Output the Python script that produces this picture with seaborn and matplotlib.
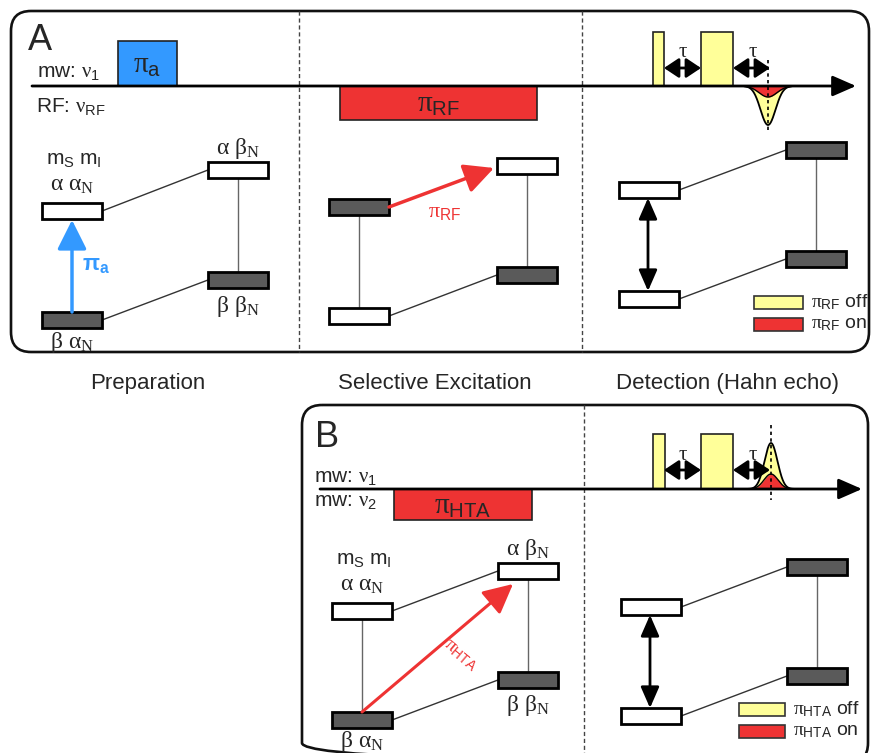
import numpy as np
import matplotlib
matplotlib.use("Agg")
import matplotlib.pyplot as plt
from matplotlib.patches import FancyBboxPatch, Rectangle
import seaborn as sns

sns.set_theme(style="white")
plt.rcParams["font.family"] = ["Liberation Sans", "DejaVu Sans"]
plt.rcParams["mathtext.fontset"] = "custom"
plt.rcParams["mathtext.rm"] = "Liberation Sans"
plt.rcParams["mathtext.it"] = "Liberation Serif"
plt.rcParams["mathtext.bf"] = "Liberation Sans:bold"
plt.rcParams["mathtext.sf"] = "Liberation Sans"

# ---- pulse sequences (x0, x1, y_top, y_bottom) ----
pulse_names = ["pi_a", "pi_RF", "A_det90", "A_det180", "pi_HTA", "B_det90", "B_det180"]
pulse_x0 = [118, 340, 653, 701, 394, 653, 701]
pulse_x1 = [177, 537, 664, 733, 532, 665, 733]
pulse_top = [41, 86, 32, 32, 489, 434, 434]
pulse_bot = [86, 120, 86, 86, 520, 489, 489]
pulse_kind = ["blue", "red", "yellow", "yellow", "red", "yellow", "yellow"]
pulse_text = [r"$\pi_{\mathrm{a}}$", r"$\pi_{\mathrm{RF}}$", "", "", r"$\pi_{\mathrm{HTA}}$", "", ""]

# ---- echo amplitudes (off / on) and centres ----
echo_centre = [768, 771]
echo_axis = [86, 489]
echo_sign = [1, -1]          # A inverted, B upright
echo_off_amp = [39, 46]
echo_on_amp = [11, 15]
echo_off_sigma = [7.5, 6.5]
echo_on_sigma = [9.0, 7.0]

# ---- energy levels: order TL, BL, TR, BR ----
sections = ["A_prep", "A_sel", "A_det", "B_prep", "B_det"]
left_x = [42, 329, 619, 332, 621]
right_x = [208, 497, 786, 498, 787]
level_y = [
    [203, 312, 162, 272],
    [199, 308, 158, 267],
    [182, 291, 142, 251],
    [603, 712, 563, 672],
    [599, 708, 559, 668],
]
level_dark = [
    [False, True, False, True],
    [True, False, False, True],
    [False, False, True, True],
    [False, True, False, True],
    [False, False, True, True],
]
connectors = [
    ["TL-TR", "BL-BR", "TR|BR"],
    ["BL-BR", "TL|BL", "TR|BR"],
    ["TL-TR", "BL-BR", "TR|BR"],
    ["TL-TR", "BL-BR", "TL|BL", "TR|BR"],
    ["TL-TR", "BL-BR", "TR|BR"],
]
LW, LH = 60, 16

BLUE = "#3399FF"
RED = "#EE3333"
YELLOW = "#FFFF99"
DARK = "#5A5A5A"
fills = {"blue": BLUE, "red": RED, "yellow": YELLOW}

fig = plt.figure(figsize=(8.75, 7.53), dpi=100)
fig.patch.set_facecolor("white")
ax = fig.add_axes([0, 0, 1, 1])
ax.set_xlim(0, 875)
ax.set_ylim(753, 0)
ax.axis("off")

# ---- frames ----
ax.add_patch(FancyBboxPatch((11, 11), 858, 341, boxstyle="round,pad=0,rounding_size=20",
                            fc="none", ec="#111111", lw=1.9, zorder=1))
ax.add_patch(FancyBboxPatch((302, 405), 566, 358, boxstyle="round,pad=0,rounding_size=20",
                            fc="none", ec="#111111", lw=1.9, zorder=1))
for x, y0, y1 in [(299, 11, 352), (582, 11, 352), (584, 405, 753)]:
    ax.plot([x, x], [y0, y1], color="#444444", lw=1.0, ls=(0, (3, 2)), zorder=1)

ax.text(28, 50, "A", fontsize=26, va="baseline", ha="left")
ax.text(315, 447, "B", fontsize=26, va="baseline", ha="left")

# ---- time axes ----
for x0, x1, y in [(32, 856, 86), (320, 862, 489)]:
    ax.annotate("", xy=(x1, y), xytext=(x0, y),
                arrowprops=dict(arrowstyle="-|>,head_length=0.8,head_width=0.35",
                                mutation_scale=18, lw=2, color="black",
                                shrinkA=0, shrinkB=0), zorder=4)

ax.text(37, 77, r"mw: $\nu_1$", fontsize=15, va="baseline")
ax.text(36, 112, r"RF: $\nu_{\mathrm{RF}}$", fontsize=15, va="baseline")
ax.text(314, 482, r"mw: $\nu_1$", fontsize=15, va="baseline")
ax.text(314, 506, r"mw: $\nu_2$", fontsize=15, va="baseline")

# ---- pulses ----
for x0, x1, yt, yb, k, t in zip(pulse_x0, pulse_x1, pulse_top, pulse_bot, pulse_kind, pulse_text):
    ax.add_patch(Rectangle((x0, yt), x1 - x0, yb - yt, fc=fills[k], ec="#222222", lw=1.2, zorder=3))
    if t:
        ax.text((x0 + x1) / 2, (yt + yb) / 2 + 1, t, fontsize=21, ha="center", va="center", zorder=5)

# ---- tau arrows ----
for y, lbl_y in [(68, 51), (470, 454)]:
    for x0, x1 in [(664, 701), (733, 770)]:
        ax.annotate("", xy=(x1, y), xytext=(x0, y),
                    arrowprops=dict(arrowstyle="<|-|>,head_length=0.6,head_width=0.4",
                                    mutation_scale=15, lw=2, color="black",
                                    shrinkA=0, shrinkB=0), zorder=4)
        ax.text((x0 + x1) / 2 + 1, lbl_y, r"$\tau$", fontsize=15, ha="center", va="center")

# ---- echoes ----
for c, ya, s, a_off, a_on, s_off, s_on in zip(echo_centre, echo_axis, echo_sign, echo_off_amp,
                                               echo_on_amp, echo_off_sigma, echo_on_sigma):
    xs = np.linspace(c - 24, c + 24, 200)
    off = ya + s * a_off * np.exp(-(xs - c) ** 2 / (2 * s_off ** 2))
    on = ya + s * a_on * np.exp(-(xs - c) ** 2 / (2 * s_on ** 2))
    ax.fill_between(xs, ya, off, color=YELLOW, zorder=3, lw=0)
    ax.fill_between(xs, ya, on, color=RED, zorder=3, lw=0)
    sns.lineplot(x=xs, y=off, ax=ax, color="black", lw=1.3, zorder=3, sort=False)
    sns.lineplot(x=xs, y=on, ax=ax, color="black", lw=1.0, zorder=3, sort=False)
    if s > 0:
        ax.plot([c, c], [60, 132], color="black", lw=1.2, ls=(0, (2, 2)), zorder=5)
    else:
        ax.plot([c, c], [425, 500], color="black", lw=1.2, ls=(0, (2, 2)), zorder=5)

# ---- energy level diagrams ----
def anchors(i):
    lx, rx = left_x[i], right_x[i]
    ys = level_y[i]
    return {
        "TL": (lx, ys[0]), "BL": (lx, ys[1]),
        "TR": (rx, ys[2]), "BR": (rx, ys[3]),
    }

for i, sec in enumerate(sections):
    an = anchors(i)
    for key, dark in zip(["TL", "BL", "TR", "BR"], level_dark[i]):
        x, y = an[key]
        ax.add_patch(Rectangle((x, y), LW, LH, fc=DARK if dark else "white",
                               ec="black", lw=2, zorder=3))
    for con in connectors[i]:
        if "-" in con:
            a, b = con.split("-")
            (xa, ya_), (xb, yb) = an[a], an[b]
            ax.plot([xa + LW, xb], [ya_ + LH / 2, yb + LH / 2], color="#333333", lw=1.0, zorder=2)
        else:
            a, b = con.split("|")
            (xa, ya_), (xb, yb) = an[a], an[b]
            ax.plot([xa + LW / 2, xb + LW / 2], [ya_ + LH, yb], color="#666666", lw=1.0, zorder=2)

greek_lbl = dict(fontsize=17, ha="center", va="center")
for i in (0, 3):
    an = anchors(i)
    cxl = an["TL"][0] + LW / 2
    cxr = an["TR"][0] + LW / 2
    ax.text(cxl + 2, an["TL"][1] - 43, r"$\mathrm{m_S\ m_I}$", fontsize=15, ha="center", va="center")
    ax.text(cxl, an["TL"][1] - 18, r"$\alpha\ \alpha_N$", **greek_lbl)
    ax.text(cxl, an["BL"][1] + LH + 14, r"$\beta\ \alpha_N$", **greek_lbl)
    ax.text(cxr, an["TR"][1] - 14, r"$\alpha\ \beta_N$", **greek_lbl)
    ax.text(cxr, an["BR"][1] + LH + 18, r"$\beta\ \beta_N$", **greek_lbl)

# transitions
an = anchors(0)
ax.annotate("", xy=(an["TL"][0] + LW / 2, an["TL"][1] + LH + 1),
            xytext=(an["BL"][0] + LW / 2, an["BL"][1]),
            arrowprops=dict(arrowstyle="-|>,head_length=0.9,head_width=0.45", mutation_scale=20,
                            lw=2.5, color=BLUE, shrinkA=0, shrinkB=0), zorder=4)
ax.text(82, 265, r"$\mathbf{\pi_a}$", fontsize=16, color=BLUE, va="center", ha="left")

an = anchors(1)
ax.annotate("", xy=(an["TR"][0] - 3, an["TR"][1] + 10),
            xytext=(an["TL"][0] + LW, an["TL"][1] + LH / 2),
            arrowprops=dict(arrowstyle="-|>,head_length=0.9,head_width=0.45", mutation_scale=20,
                            lw=2.5, color=RED, shrinkA=0, shrinkB=0), zorder=4)
ax.text(428, 211, r"$\pi_{\mathrm{RF}}$", fontsize=16, color=RED, va="center", ha="left")

an = anchors(3)
ax.annotate("", xy=(an["TR"][0] + 15, an["TR"][1] + LH + 5),
            xytext=(an["BL"][0] + LW / 2, an["BL"][1]),
            arrowprops=dict(arrowstyle="-|>,head_length=0.9,head_width=0.45", mutation_scale=20,
                            lw=2.2, color=RED, shrinkA=0, shrinkB=0), zorder=4)
ax.text(460, 655, r"$\pi_{\mathrm{HTA}}$", fontsize=14, color=RED, va="center", ha="center",
        rotation=-40, rotation_mode="anchor")

for i in (2, 4):
    an = anchors(i)
    cx = an["TL"][0] + LW / 2 - 1
    ax.annotate("", xy=(cx, an["BL"][1]), xytext=(cx, an["TL"][1] + LH),
                arrowprops=dict(arrowstyle="<|-|>,head_length=0.8,head_width=0.35",
                                mutation_scale=16, lw=2, color="black",
                                shrinkA=0, shrinkB=0), zorder=4)

# ---- legends ----
legend_x = [754, 739]
legend_w = [49, 46]
legend_y = [296, 703]
legend_sub = ["RF", "HTA"]
for lx, lw_, ly, sub in zip(legend_x, legend_w, legend_y, legend_sub):
    ax.add_patch(Rectangle((lx, ly), lw_, 13, fc=YELLOW, ec="#333333", lw=1.2, zorder=3))
    ax.add_patch(Rectangle((lx, ly + 22), lw_, 13, fc=RED, ec="#333333", lw=1.2, zorder=3))
    ax.text(lx + lw_ + 8, ly + 6, r"$\pi_{\mathrm{%s}}$ off" % sub, fontsize=14, va="center")
    ax.text(lx + lw_ + 8, ly + 28, r"$\pi_{\mathrm{%s}}$ on" % sub, fontsize=14, va="center")

# ---- stage captions ----
stage_names = ["Preparation", "Selective Excitation", "Detection (Hahn echo)"]
stage_x = [148, 435, 727]
for name, x in zip(stage_names, stage_x):
    ax.text(x, 383, name, fontsize=16, ha="center", va="center")

fig.savefig("out.png", dpi=100, facecolor="white")
